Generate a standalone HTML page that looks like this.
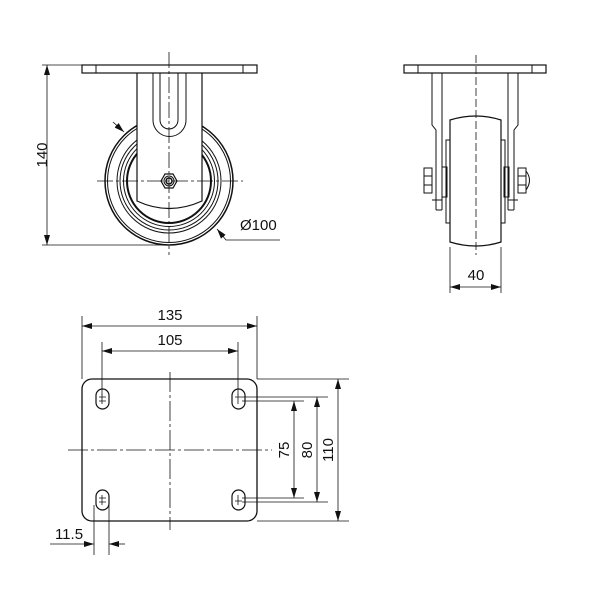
<!DOCTYPE html>
<html><head><style>
html,body{margin:0;padding:0;background:#fff;}
svg{display:block;}
text{font-family:"Liberation Sans",sans-serif;font-size:15px;fill:#111;}
</style></head><body>
<svg width="600" height="603" viewBox="0 0 600 603" xmlns="http://www.w3.org/2000/svg">
<defs>
<marker id="a" viewBox="0 0 10 6" refX="10" refY="3" markerWidth="10" markerHeight="6" orient="auto-start-reverse" markerUnits="userSpaceOnUse"><path d="M0,0 L10,3 L0,6z" fill="#111"/></marker>
</defs>
<g fill="none" stroke="#111" stroke-width="1">
<circle cx="169" cy="181" r="64" stroke-width="1.5"/>
<circle cx="169" cy="181" r="61.5"/>
<circle cx="169" cy="181" r="52"/>
<circle cx="169" cy="181" r="49"/>
<circle cx="169" cy="181" r="45.5"/>
<circle cx="169" cy="181" r="42" stroke-width="2"/>
<path d="M137,73 V201 Q169,216 202,201 V73" fill="#fff" stroke-width="1.2"/>
<rect x="82" y="65" width="175" height="8" fill="#fff" stroke-width="1.2"/>
<line x1="96" y1="65" x2="96" y2="73"/><line x1="243" y1="65" x2="243" y2="73"/>
<path d="M153,73 V120 A16,16 0 0 0 186,120 V73"/>
<path d="M160,73 V120 A9,9 0 0 0 178,120 V73"/>
<polygon points="177,181 173,188 165,188 161,181 165,174 173,174" fill="#fff" stroke-width="1.2"/>
<circle cx="169" cy="181" r="5"/><circle cx="169" cy="181" r="3" stroke-width="1.5"/>
<line x1="169" y1="52" x2="169" y2="255" stroke-dasharray="16,3,3,3" stroke-width="0.8"/>
<line x1="97" y1="181" x2="243" y2="181" stroke-dasharray="16,3,3,3" stroke-width="0.8"/>
<line x1="42" y1="65" x2="82" y2="65" stroke-width="0.8"/>
<line x1="42" y1="245" x2="169" y2="245" stroke-width="0.8"/>
<line x1="47" y1="65" x2="47" y2="245" stroke-width="0.8" marker-start="url(#a)" marker-end="url(#a)"/>
<line x1="113" y1="122" x2="124" y2="132" stroke-width="0.8" marker-end="url(#a)"/>
<polyline points="280,240 226,240 217,229" stroke-width="0.8" marker-end="url(#a)"/>

<rect x="404" y="65" width="142" height="8" stroke-width="1.2"/>
<line x1="418" y1="65" x2="418" y2="73"/><line x1="532" y1="65" x2="532" y2="73"/>
<path d="M432,73 V125 L436,130 V210 M442,73 V210 M436,210 H442 M432,200 H442"/>
<path d="M518,73 V125 L514,130 V210 M508,73 V210 M508,210 H514 M508,200 H518"/>
<rect x="446" y="140" width="5" height="83"/><rect x="500" y="140" width="5" height="83"/>
<rect x="442" y="167" width="5" height="30"/><rect x="504" y="167" width="5" height="30"/>
<path d="M450,120 Q476,112 501,120 V242 Q476,250 450,242 Z" fill="#fff" stroke-width="1.2"/>
<rect x="424" y="168" width="8" height="25"/><line x1="424" y1="176" x2="432" y2="176"/><line x1="424" y1="185" x2="432" y2="185"/>
<rect x="518" y="168" width="8" height="25"/><path d="M526,171 Q533,180 526,190"/><line x1="518" y1="176" x2="526" y2="176"/><line x1="518" y1="185" x2="526" y2="185"/>
<line x1="476" y1="55" x2="476" y2="255" stroke-dasharray="8,3" stroke-width="0.8"/>
<line x1="450" y1="247" x2="450" y2="293" stroke-width="0.8"/>
<line x1="501" y1="247" x2="501" y2="293" stroke-width="0.8"/>
<line x1="450" y1="287" x2="501" y2="287" stroke-width="0.8" marker-start="url(#a)" marker-end="url(#a)"/>

<rect x="82" y="379" width="175" height="142" rx="10" stroke-width="1.3"/>
<g stroke-width="1.2">
<rect x="96" y="389" width="13" height="20" rx="6.5"/><rect x="232" y="389" width="13" height="20" rx="6.5"/>
<rect x="96" y="490" width="13" height="20" rx="6.5"/><rect x="232" y="490" width="13" height="20" rx="6.5"/>
</g>
<g stroke-width="0.8">
<path d="M99,397 H106 M99,401 H106 M102,394 V404"/>
<path d="M99,498 H106 M99,502 H106 M102,495 V505"/>
<path d="M235,397 H242 M235,501 H242 M238,394 V404 M238,495 V505"/>
<line x1="170" y1="372" x2="170" y2="530" stroke-dasharray="20,3,3,3"/>
<line x1="68" y1="450" x2="272" y2="450" stroke-dasharray="20,3,3,3"/>
<line x1="82" y1="316" x2="82" y2="379"/><line x1="257" y1="316" x2="257" y2="379"/>
<line x1="82" y1="326" x2="257" y2="326" marker-start="url(#a)" marker-end="url(#a)"/>
<line x1="102" y1="342" x2="102" y2="395"/><line x1="238" y1="342" x2="238" y2="395"/>
<line x1="102" y1="351" x2="238" y2="351" marker-start="url(#a)" marker-end="url(#a)"/>
<line x1="257" y1="379" x2="349" y2="379"/><line x1="257" y1="521" x2="349" y2="521"/>
<line x1="242" y1="397" x2="328" y2="397"/><line x1="242" y1="401" x2="304" y2="401"/>
<line x1="242" y1="498" x2="304" y2="498"/><line x1="242" y1="502" x2="328" y2="502"/>
<line x1="294" y1="401" x2="294" y2="498" marker-start="url(#a)" marker-end="url(#a)"/>
<line x1="317" y1="397" x2="317" y2="502" marker-start="url(#a)" marker-end="url(#a)"/>
<line x1="338" y1="379" x2="338" y2="521" marker-start="url(#a)" marker-end="url(#a)"/>
<line x1="94" y1="505" x2="94" y2="555"/><line x1="109" y1="505" x2="109" y2="555"/>
<line x1="50" y1="544" x2="94" y2="544" marker-end="url(#a)"/>
<line x1="125" y1="544" x2="109" y2="544" marker-end="url(#a)"/>
</g>
</g>
<text x="42" y="155" text-anchor="middle" transform="rotate(-90 42 155)" dy="5">140</text>
<text x="240" y="230">Ø100</text>
<text x="476" y="280" text-anchor="middle">40</text>
<text x="170" y="320" text-anchor="middle">135</text>
<text x="170" y="345" text-anchor="middle">105</text>
<text x="289" y="450" text-anchor="middle" transform="rotate(-90 289 450)">75</text>
<text x="312" y="450" text-anchor="middle" transform="rotate(-90 312 450)">80</text>
<text x="333" y="450" text-anchor="middle" transform="rotate(-90 333 450)">110</text>
<text x="69" y="539" text-anchor="middle">11.5</text>
</svg>
</body></html>
